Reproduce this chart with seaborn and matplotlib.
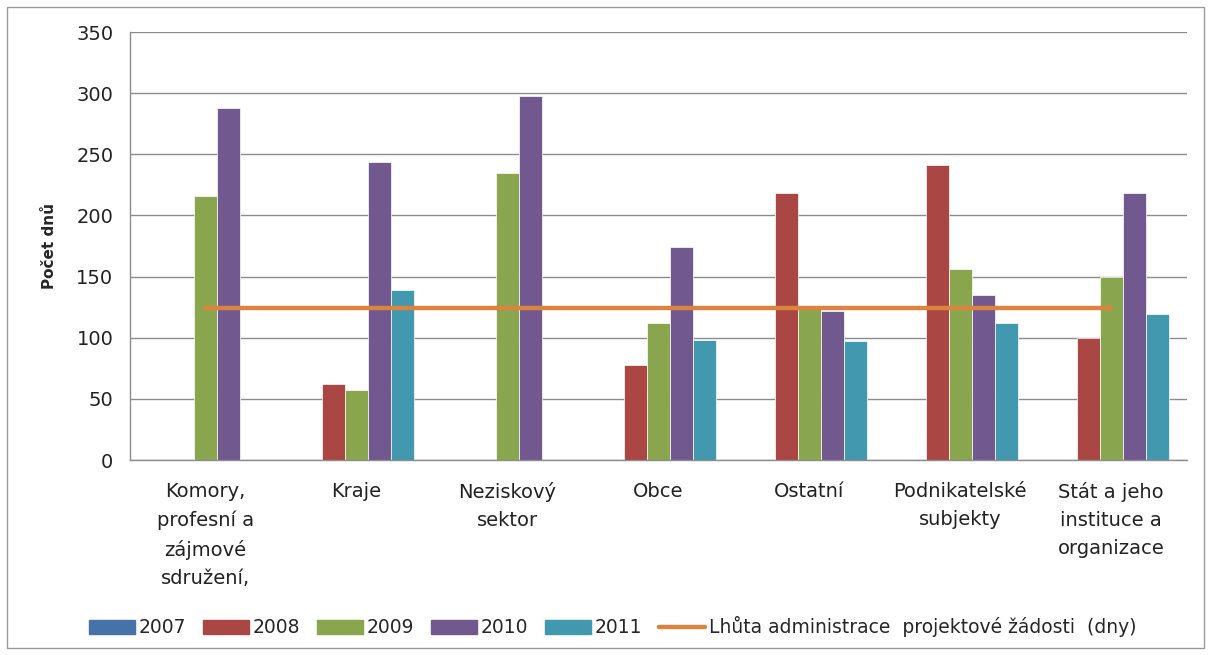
import numpy as np
import pandas as pd
import matplotlib
matplotlib.use("Agg")
import matplotlib.pyplot as plt
import seaborn as sns
from matplotlib.lines import Line2D
from matplotlib.patches import Rectangle

kategorie = ["Komory,\nprofesní a\nzájmové\nsdružení,", "Kraje", "Neziskový\nsektor", "Obce",
             "Ostatní", "Podnikatelské\nsubjekty", "Stát a jeho\ninstituce a\norganizace"]
roky = ["2007", "2008", "2009", "2010", "2011"]
h2007 = [0, 0, 0, 0, 0, 0, 0]
h2008 = [0, 62, 0, 78, 218, 241, 100]
h2009 = [216, 57, 235, 112, 125, 156, 150]
h2010 = [288, 244, 298, 174, 122, 135, 218]
h2011 = [0, 139, 0, 98, 97, 112, 119]
lhuta = [124, 124, 124, 124, 124, 124, 124]
barvy = ["#4572A7", "#AA4643", "#89A54E", "#71588F", "#4198AF"]
barva_cary = "#DB843D"


def main():
    df = pd.DataFrame({
        "kategorie": kategorie * 5,
        "rok": np.repeat(roky, len(kategorie)),
        "dny": h2007 + h2008 + h2009 + h2010 + h2011,
    })

    sns.set_style("white")
    plt.rcParams["font.family"] = ["DejaVu Sans"]

    fig = plt.figure(figsize=(12.11, 6.55), dpi=100)
    ax = fig.add_axes([0.1073, 0.2977, 0.8727, 0.6534])

    sns.barplot(data=df, x="kategorie", y="dny", hue="rok", palette=barvy, width=0.76,
                saturation=1, edgecolor="white", linewidth=0.5, ax=ax, legend=False, zorder=2)

    # lhuta administrace
    ax.plot(np.arange(len(kategorie)), lhuta, color=barva_cary, lw=3.2, zorder=3)

    ax.set_ylim(0, 350)
    ax.set_xlim(-0.5, len(kategorie) - 0.5)
    ax.set_yticks(range(0, 351, 50))
    ax.yaxis.grid(True, color="#8c8c8c", lw=1)
    ax.set_axisbelow(True)
    ax.set_xlabel("")
    ax.set_ylabel("Počet dnů", fontsize=11, fontweight="bold", labelpad=14)

    for s in ["top", "right"]:
        ax.spines[s].set_visible(False)
    for s in ["left", "bottom"]:
        ax.spines[s].set_color("#8c8c8c")
        ax.spines[s].set_linewidth(1)

    ax.set_xticks(np.arange(len(kategorie)))
    ax.set_xticklabels(kategorie, fontsize=14, linespacing=1.6, va="top")
    ax.set_xticks(np.arange(len(kategorie) + 1) - 0.5, minor=True)
    ax.tick_params(axis="x", which="major", length=0, pad=16)
    ax.tick_params(axis="x", which="minor", length=6, color="#8c8c8c", direction="out")
    ax.tick_params(axis="y", length=6, color="#8c8c8c", direction="out", labelsize=14, pad=6)
    ax.tick_params(axis="both", labelcolor="#222222")

    handles = [Rectangle((0, 0), 1, 1, color=c) for c in barvy]
    handles.append(Line2D([0], [0], color=barva_cary, lw=3.2))
    popisky = roky + ["Lhůta administrace  projektové žádosti  (dny)"]
    ax.legend(handles, popisky, loc="center", bbox_to_anchor=(0.457, -0.39), ncol=6, frameon=False,
              fontsize=13.5, handlelength=2.45, handleheight=0.8, handletextpad=0.2, columnspacing=0.9)

    fig.patches.append(Rectangle((0.006, 0.01), 0.988, 0.98, transform=fig.transFigure,
                                 fill=False, edgecolor="#9a9a9a", lw=1))

    fig.savefig("out.png", dpi=100)


if __name__ == "__main__":
    main()
